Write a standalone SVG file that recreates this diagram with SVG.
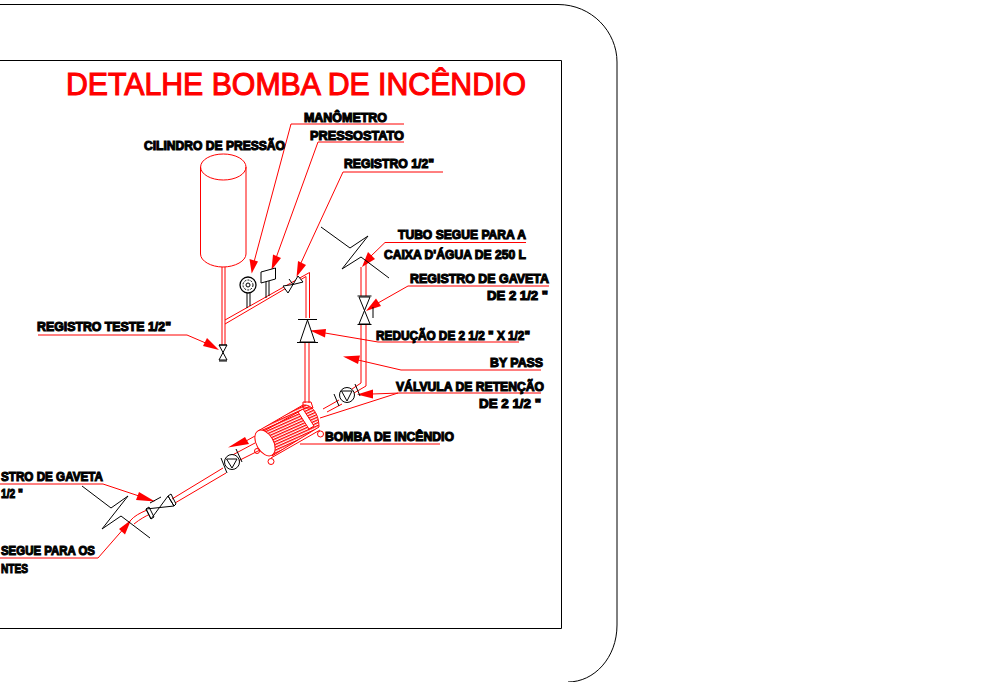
<svg xmlns="http://www.w3.org/2000/svg" width="991" height="682" viewBox="0 0 991 682">
<style>
.r{fill:none;stroke:#ff0000;stroke-width:1}
.k{fill:none;stroke:#000;stroke-width:1}
.w{fill:#fff;stroke:#000;stroke-width:1}
.a{fill:#ff0000;stroke:none}
.t{font-family:"Liberation Sans",Arial,sans-serif;font-size:13px;font-weight:700;fill:#000;stroke:#000;stroke-width:1.1}
.h{font-family:"Liberation Sans",Arial,sans-serif;font-size:31px;fill:#ff0000;stroke:#ff0000;stroke-width:1.1}
</style>
<defs>
<pattern id="hatch" width="2.6" height="2.6" patternUnits="userSpaceOnUse" patternTransform="rotate(-24)"><rect width="2.6" height="1.3" fill="#ff0000"/></pattern>
</defs>
<rect width="991" height="682" fill="#fff"/>
<g id="frame">
<path class="k" d="M0 4.500H558C592 4.500 617 32 617 62V625C617 658 594 682 568 682"/>
<path class="k" d="M0 60.500H561.500V628.500H0"/>
</g>
<g id="title"><text class="h" x="66" y="95" textLength="460" lengthAdjust="spacingAndGlyphs">DETALHE BOMBA DE INCÊNDIO</text></g>
<g id="connectors">
<path class="r" d="M404 124H291L254 262"/><path class="a" d="M251.700 273.500L249.500 259L258 261.500Z"/>
<path class="r" d="M404 142H318L276 258"/><path class="a" d="M271.500 270L273 254.500L281 258Z"/>
<path class="r" d="M443 172H343L300 265"/><path class="a" d="M296.500 277L298 261L306 265Z"/>
<path class="r" d="M526 242.500H385L371 256"/><path class="a" d="M362 267L368 252L375 259Z"/>
<path class="r" d="M549 286H408L378 303"/><path class="a" d="M366 311L376 298.500L381 306Z"/>
<path class="r" d="M519 342H378L325 333"/><path class="a" d="M310 330.500L326 329L325 337.500Z"/>
<path class="r" d="M541 370H401L358 360"/><path class="a" d="M343 356.500L360 355.500L358 364Z"/>
<path class="r" d="M541 393H400L372 394"/><path class="a" d="M357 394.500L373 389.500L373 398.500Z"/>
<path class="r" d="M398 393L320 418"/>
<path class="r" d="M440 444H300"/>
<path class="r" d="M38 335H187L208 344"/><path class="a" d="M219 350L203 346L207 338Z"/>
<path class="r" d="M0 484H103L142 497"/><path class="a" d="M155 501.500L136 500L139 492Z"/>
<path class="r" d="M0 558H98L126 526"/><path class="a" d="M131 520L125 534.500L119 529Z"/>
<path class="r" d="M300 411L246 441"/><path class="a" d="M228 447.500L245 437L249 444Z"/>
<path class="k" d="M321 227L350 248L368 236L342 269L361 257L389 278"/>
<path class="k" d="M82 486L111 508L128 496L102 529L121 516L150 538"/>
</g>
<g id="cilindro">
<path class="r" d="M200.500 167V254C200.500 261 211 267 223 267S246 261 246 254V167"/>
<ellipse class="r" cx="223.300" cy="167" rx="22.700" ry="13"/>
</g>
<g id="tubulacao">
<path class="r" d="M222 267V345M225 267V345"/>
<path class="r" d="M225 320L309.500 272.500V318M225 324L306 276.500V318"/>
<path class="r" d="M305 343V403M309 343V403"/>
<path class="r" d="M361 267V296M366 264V296M361 324V383L352 389M366 324V386L354 393"/>
<path class="r" d="M339 400L323 409M342 404L327 412"/>
<path class="r" d="M225 459L255 443M228 466L262 449"/>
<path class="r" d="M172 499L223 468M175 503L226 473"/>
<path class="r" d="M147 510C140 513 134 516 130 521M150 514C146 516 140 519 134 524"/>
</g>
<g id="manometro">
<path d="M247 293V308M250 293V306" class="k"/>
<circle cx="248" cy="285" r="8" fill="#fff" stroke="#000" stroke-width="1.300"/><circle class="k" cx="248" cy="285" r="5" stroke-dasharray="2 1.200"/><circle class="k" cx="248" cy="285" r="2"/>
</g>
<g id="pressostato">
<path class="k" d="M266 281V298M269 281V296"/>
<path class="w" d="M261 272L275.500 268V279L261 283Z"/>
</g>
<g id="registro-meio">
<path class="w" d="M283 286L288 293L293 284.500Z"/>
<path class="w" d="M298 276L303 282L293 284.500Z"/>
<path class="k" d="M289 279L293 284.500"/>
</g>
<g id="registro-teste"><path class="w" d="M219 345H227L219 360H227Z"/><path class="k" d="M219 345H227M219 361H227"/></g>
<g id="reducao">
<path class="w" d="M307.500 320L300 342H315Z"/><path class="k" d="M298 319.500H317M297 342.500H318"/>
</g>
<g id="registro-gaveta">
<path class="w" d="M359 297H370L359 324H370Z"/>
<path class="k" d="M357.500 296H371.500M357.500 324.500H371.500M373 307V318"/>
</g>
<g id="retencao-1">
<circle class="w" cx="347" cy="395" r="7.500"/><path class="k" d="M341.500 391L352 391L347 401Z"/>
<path class="k" d="M334 394L339 406M355 384L360 396"/>
</g>
<g id="retencao-2">
<circle class="w" cx="232" cy="462" r="7.500"/><path class="k" d="M226.500 459L237 459L232 468Z"/>
<path class="k" d="M221 458L227 473M236 449L242 462"/>
</g>
<g id="registro-esquerda">
<path class="w" d="M146 509L174 506L168 496L151 519Z"/>
<path class="k" d="M146 509L151 519L154 517L149 507ZM168 496L174 506L176 504L171 494ZM150 503L161 497"/>
</g>
<g id="bomba">
<path fill="url(#hatch)" stroke="#ff0000" d="M258 431L303 405C312 404 319 414 319 427L272 456C278 447 270 432 258 431Z"/>
<path d="M298 412L303 409L314 426L309 429Z" fill="#fff" stroke="#ff0000"/>
<ellipse cx="265" cy="443" rx="8.500" ry="14" transform="rotate(-30 265 443)" fill="#fff" stroke="#ff0000"/>
<path class="r" d="M271 458L320 430M303 402H311L313 408L303 408Z"/>
<circle class="r" cx="320.500" cy="434" r="3"/><circle class="r" cx="271" cy="461.500" r="3"/><circle class="r" cx="257" cy="451" r="2.500"/>
</g>
<g id="rotulos">
<text class="t" x="304" y="122" textLength="83" lengthAdjust="spacingAndGlyphs">MANÔMETRO</text>
<text class="t" x="310" y="140" textLength="94" lengthAdjust="spacingAndGlyphs">PRESSOSTATO</text>
<text class="t" x="144" y="150" textLength="141" lengthAdjust="spacingAndGlyphs">CILINDRO DE PRESSÃO</text>
<text class="t" x="344" y="168" textLength="90" lengthAdjust="spacingAndGlyphs">REGISTRO 1/2"</text>
<text class="t" x="398" y="239" textLength="128" lengthAdjust="spacingAndGlyphs">TUBO SEGUE PARA A</text>
<text class="t" x="384" y="259" textLength="142" lengthAdjust="spacingAndGlyphs">CAIXA D'ÁGUA  DE 250 L</text>
<text class="t" x="410" y="283" textLength="139" lengthAdjust="spacingAndGlyphs">REGISTRO DE GAVETA</text>
<text class="t" x="487" y="300" textLength="61" lengthAdjust="spacingAndGlyphs">DE  2 1/2 "</text>
<text class="t" x="376" y="340" textLength="154" lengthAdjust="spacingAndGlyphs">REDUÇÃO DE 2 1/2 " X 1/2"</text>
<text class="t" x="490" y="367" textLength="53" lengthAdjust="spacingAndGlyphs">BY PASS</text>
<text class="t" x="396" y="391" textLength="148" lengthAdjust="spacingAndGlyphs">VÁLVULA DE RETENÇÃO</text>
<text class="t" x="479" y="408" textLength="62" lengthAdjust="spacingAndGlyphs">DE  2 1/2 "</text>
<text class="t" x="325" y="441" textLength="129" lengthAdjust="spacingAndGlyphs">BOMBA DE INCÊNDIO</text>
<text class="t" x="37" y="331" textLength="134" lengthAdjust="spacingAndGlyphs">REGISTRO TESTE 1/2"</text>
<text class="t" x="1" y="481" textLength="102" lengthAdjust="spacingAndGlyphs">STRO DE GAVETA</text>
<text class="t" x="1" y="498" textLength="22" lengthAdjust="spacingAndGlyphs">1/2 "</text>
<text class="t" x="1" y="555" textLength="94" lengthAdjust="spacingAndGlyphs">SEGUE PARA OS</text>
<text class="t" x="1" y="573" textLength="27" lengthAdjust="spacingAndGlyphs">NTES</text>
</g>
</svg>
